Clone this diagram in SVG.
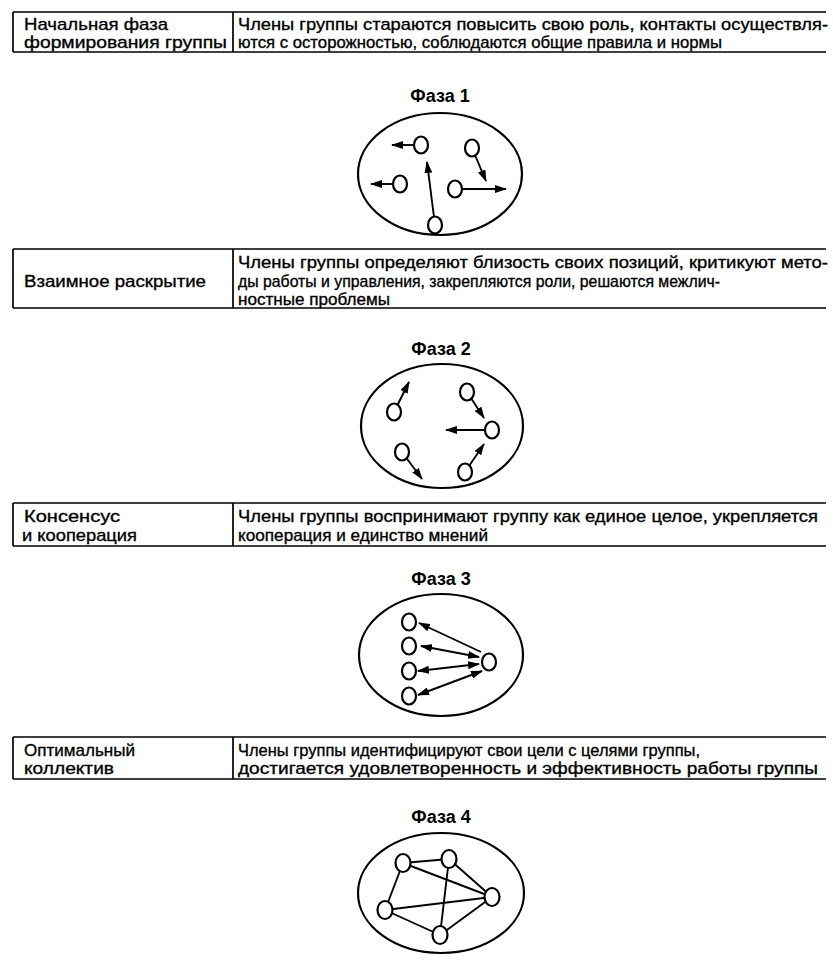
<svg xmlns="http://www.w3.org/2000/svg" width="833" height="961" viewBox="0 0 833 961">
<style>
.t{font-family:"Liberation Sans",Arial,sans-serif;font-size:17px;fill:#000;stroke:#000;stroke-width:0.35}
.h{font-family:"Liberation Sans",Arial,sans-serif;font-size:18px;font-weight:bold;fill:#000;text-anchor:middle}
.tl{stroke:#000;stroke-width:1.7;fill:none}
.el{stroke:#000;stroke-width:2.2;fill:none}
.nd{stroke:#000;stroke-width:2.2;fill:#fff}
.cn{stroke:#000;stroke-width:1.9;fill:none}
.ar{stroke:#000;stroke-width:1.9;fill:none;marker-end:url(#ah)}
.ar2{stroke:#000;stroke-width:1.9;fill:none;marker-end:url(#ah);marker-start:url(#ah)}
</style>
<defs>
<marker id="ah" viewBox="0 0 12 8" refX="11" refY="4" markerWidth="12" markerHeight="8" markerUnits="userSpaceOnUse" orient="auto-start-reverse"><path d="M0,0 L12,4 L0,8 z" fill="#000"/></marker>
</defs>
<rect width="833" height="961" fill="#fff"/>

<!-- Table 1 -->
<g id="table1">
<path class="tl" d="M13,12 H826 M13,52 H826 M13,12 V52 M233,12 V52"/>
<text class="t" x="24" y="30" textLength="144" lengthAdjust="spacingAndGlyphs">Начальная фаза</text>
<text class="t" x="24" y="48" textLength="203" lengthAdjust="spacingAndGlyphs">формирования группы</text>
<text class="t" x="238" y="30" textLength="590" lengthAdjust="spacingAndGlyphs">Члены группы стараются повысить свою роль, контакты осуществля-</text>
<text class="t" x="238" y="48" textLength="484" lengthAdjust="spacingAndGlyphs">ются с осторожностью, соблюдаются общие правила и нормы</text>
</g>

<g id="phase1">
<text class="h" x="440" y="102">Фаза 1</text>
<ellipse class="el" cx="440" cy="174" rx="82" ry="61"/>
<g id="connectors1">
<line class="ar" x1="421" y1="145" x2="392" y2="145"/>
<line class="ar" x1="400" y1="184" x2="371" y2="184"/>
<line class="ar" x1="472" y1="148" x2="486" y2="181"/>
<line class="ar" x1="455" y1="189" x2="506" y2="189"/>
<line class="ar" x1="435" y1="225" x2="427" y2="162"/>
</g>
<ellipse id="p1a" class="nd" cx="421" cy="145" rx="7" ry="8.5"/>
<ellipse id="p1b" class="nd" cx="400" cy="184" rx="7" ry="8.5"/>
<ellipse id="p1c" class="nd" cx="472" cy="148" rx="7" ry="8.5"/>
<ellipse id="p1d" class="nd" cx="455" cy="189" rx="7" ry="8.5"/>
<ellipse id="p1e" class="nd" cx="435" cy="225" rx="7" ry="8.5"/>
</g>

<!-- Table 2 -->
<g id="table2">
<path class="tl" d="M13,249 H826 M13,308 H826 M13,249 V308 M233,249 V308"/>
<text class="t" x="24" y="287" textLength="182" lengthAdjust="spacingAndGlyphs">Взаимное раскрытие</text>
<text class="t" x="238" y="268" textLength="590" lengthAdjust="spacingAndGlyphs">Члены группы определяют близость своих позиций, критикуют мето-</text>
<text class="t" x="238" y="287" textLength="482" lengthAdjust="spacingAndGlyphs">ды работы и управления, закрепляются роли, решаются межлич-</text>
<text class="t" x="238" y="305" textLength="152" lengthAdjust="spacingAndGlyphs">ностные проблемы</text>
</g>

<g id="phase2">
<text class="h" x="441" y="355">Фаза 2</text>
<ellipse class="el" cx="442" cy="426" rx="81" ry="62"/>
<g id="connectors2">
<line class="ar" x1="394" y1="412" x2="409" y2="382"/>
<line class="ar" x1="467" y1="392" x2="484" y2="418"/>
<line class="ar" x1="492" y1="430" x2="446" y2="430"/>
<line class="ar" x1="402" y1="452" x2="422" y2="479"/>
<line class="ar" x1="465" y1="472" x2="484" y2="444"/>
</g>
<ellipse id="p2a" class="nd" cx="394" cy="412" rx="7" ry="8.5"/>
<ellipse id="p2b" class="nd" cx="467" cy="392" rx="7" ry="8.5"/>
<ellipse id="p2c" class="nd" cx="492" cy="430" rx="7" ry="8.5"/>
<ellipse id="p2d" class="nd" cx="402" cy="452" rx="7" ry="8.5"/>
<ellipse id="p2e" class="nd" cx="465" cy="472" rx="7" ry="8.5"/>
</g>

<!-- Table 3 -->
<g id="table3">
<path class="tl" d="M13,503 H826 M13,546 H826 M13,503 V546 M233,503 V546"/>
<text class="t" x="24" y="522" textLength="96" lengthAdjust="spacingAndGlyphs">Консенсус</text>
<text class="t" x="22" y="541" textLength="115" lengthAdjust="spacingAndGlyphs">и кооперация</text>
<text class="t" x="238" y="522" textLength="580" lengthAdjust="spacingAndGlyphs">Члены группы воспринимают группу как единое целое, укрепляется</text>
<text class="t" x="238" y="541" textLength="250" lengthAdjust="spacingAndGlyphs">кооперация и единство мнений</text>
</g>

<g id="phase3">
<text class="h" x="441" y="585">Фаза 3</text>
<ellipse class="el" cx="441" cy="655" rx="82" ry="61"/>
<g id="connectors3">
<line class="ar" x1="481" y1="652" x2="419" y2="623"/>
<line class="ar2" x1="421" y1="646" x2="479" y2="657"/>
<line class="ar2" x1="418" y1="671" x2="479" y2="664"/>
<line class="ar2" x1="418" y1="695" x2="482" y2="671"/>
</g>
<ellipse id="p3l1" class="nd" cx="409" cy="622" rx="7" ry="8.5"/>
<ellipse id="p3l2" class="nd" cx="409" cy="646" rx="7" ry="8.5"/>
<ellipse id="p3l3" class="nd" cx="409" cy="671" rx="7" ry="8.5"/>
<ellipse id="p3l4" class="nd" cx="409" cy="696" rx="7" ry="8.5"/>
<ellipse id="p3r" class="nd" cx="489" cy="662" rx="7" ry="8.5"/>
</g>

<!-- Table 4 -->
<g id="table4">
<path class="tl" d="M13,737 H826 M13,779 H826 M13,737 V779 M233,737 V779"/>
<text class="t" x="24" y="756" textLength="111" lengthAdjust="spacingAndGlyphs">Оптимальный</text>
<text class="t" x="24" y="774" textLength="90" lengthAdjust="spacingAndGlyphs">коллектив</text>
<text class="t" x="238" y="756" textLength="462" lengthAdjust="spacingAndGlyphs">Члены группы идентифицируют свои цели с целями группы,</text>
<text class="t" x="238" y="774" textLength="580" lengthAdjust="spacingAndGlyphs">достигается удовлетворенность и эффективность работы группы</text>
</g>

<g id="phase4">
<text class="h" x="441" y="823">Фаза 4</text>
<ellipse class="el" cx="441" cy="893" rx="83" ry="60"/>
<g id="connectors4">
<line class="cn" x1="403" y1="863" x2="449" y2="859"/>
<line class="cn" x1="403" y1="863" x2="385" y2="910"/>
<line class="cn" x1="403" y1="863" x2="492" y2="897"/>
<line class="cn" x1="449" y1="859" x2="492" y2="897"/>
<line class="cn" x1="449" y1="859" x2="440" y2="935"/>
<line class="cn" x1="385" y1="910" x2="492" y2="897"/>
<line class="cn" x1="385" y1="910" x2="440" y2="935"/>
<line class="cn" x1="440" y1="935" x2="492" y2="897"/>
</g>
<ellipse id="p4a" class="nd" cx="403" cy="863" rx="7.5" ry="9"/>
<ellipse id="p4b" class="nd" cx="449" cy="859" rx="7.5" ry="9"/>
<ellipse id="p4c" class="nd" cx="492" cy="897" rx="7.5" ry="9"/>
<ellipse id="p4d" class="nd" cx="440" cy="935" rx="7.5" ry="9"/>
<ellipse id="p4e" class="nd" cx="385" cy="910" rx="7.5" ry="9"/>
</g>
</svg>
